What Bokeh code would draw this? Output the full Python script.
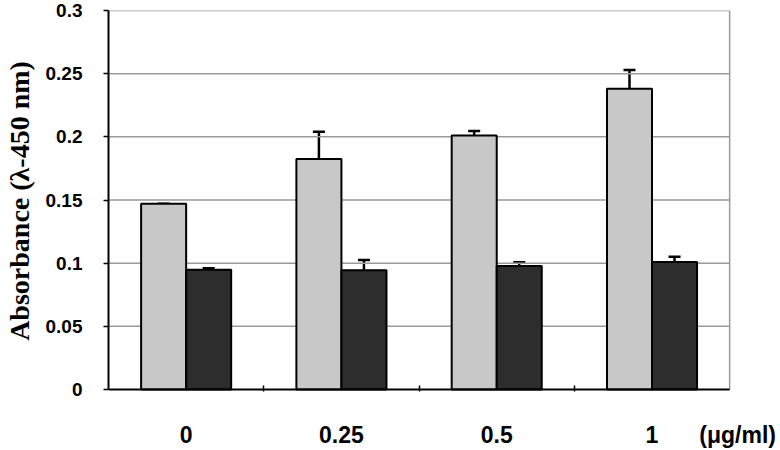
from bokeh.plotting import figure
from bokeh.models import ColumnDataSource, FixedTicker, Whisker, TeeHead, Range1d
from bokeh.embed import file_html
from bokeh.resources import INLINE

categories = ["0", "0.25", "0.5", "1"]
gray_values = [0.147, 0.1825, 0.201, 0.238]
gray_upper = [0.147, 0.204, 0.2047, 0.253]
dark_values = [0.0948, 0.0945, 0.0977, 0.101]
dark_upper = [0.096, 0.1026, 0.1008, 0.105]
y_ticks = [0, 0.05, 0.1, 0.15, 0.2, 0.25, 0.3]
y_tick_labels = ["0", "0.05", "0.1", "0.15", "0.2", "0.25", "0.3"]
unit_label = "(μg/ml)"

n = len(categories)
y_max = max(y_ticks)

# layout (pixels)
W, H = 780, 450
LEFT, TOP, BOTTOM = 106, 10, 55
PLOT_W, PLOT_H = 623, 383          # width of the 4 groups, height of 0..0.3
x_end = n * (W - LEFT) / PLOT_W
y_start = -y_max * (H - BOTTOM - TOP - PLOT_H) / PLOT_H
unit_pos = (737 - LEFT) * n / PLOT_W

bar_w = 0.29
centers = [i + 0.5 for i in range(n)]
gx = [c - bar_w / 2 for c in centers]
dx = [c + bar_w / 2 for c in centers]

src_g = ColumnDataSource(dict(x=gx, top=gray_values, upper=gray_upper))
src_d = ColumnDataSource(dict(x=dx, top=dark_values, upper=dark_upper))

p = figure(width=W, height=H, output_backend="svg", toolbar_location=None,
           x_range=Range1d(0, x_end), y_range=Range1d(y_start, y_max),
           min_border_left=LEFT, min_border_right=0, min_border_top=TOP,
           min_border_bottom=BOTTOM)
p.background_fill_color = "white"
p.border_fill_color = "white"
p.outline_line_color = None

grid_col = "#9a9a9a"
p.segment(x0=[0] * (len(y_ticks) - 1), x1=[n] * (len(y_ticks) - 1),
          y0=y_ticks[1:], y1=y_ticks[1:], line_color=grid_col, line_width=1.5)
p.segment(x0=[n], x1=[n], y0=[0], y1=[y_max], line_color=grid_col, line_width=1.5)

p.vbar(x="x", top="top", width=bar_w, bottom=0, source=src_g,
       fill_color="#c8c8c8", line_color="black", line_width=2)
p.vbar(x="x", top="top", width=bar_w, bottom=0, source=src_d,
       fill_color="#2d2d2d", line_color="black", line_width=2)

for src in (src_g, src_d):
    w = Whisker(base="x", lower="top", upper="upper", source=src, dimension="height",
                line_color="black", line_width=2.5,
                upper_head=TeeHead(size=12, line_color="black", line_width=2.5),
                lower_head=None)
    p.add_layout(w)

# baseline (x axis line) limited to the group area
p.segment(x0=[0], x1=[n], y0=[0], y1=[0], line_color="black", line_width=2)

# x axis: category labels + unit label
xa = p.xaxis[0]
xa.ticker = FixedTicker(ticks=centers + [unit_pos], minor_ticks=list(range(1, n)))
overrides = {c: lab for c, lab in zip(centers, categories)}
overrides[unit_pos] = unit_label
xa.major_label_overrides = overrides
xa.major_tick_line_color = None
xa.minor_tick_in = 6
xa.minor_tick_out = 0
xa.minor_tick_line_color = "black"
xa.minor_tick_line_width = 1.5
xa.axis_line_color = None
xa.major_label_standoff = 24
xa.major_label_text_font = "Liberation Sans"
xa.major_label_text_font_style = "bold"
xa.major_label_text_font_size = "23px"
xa.major_label_text_color = "black"

# y axis
p.yaxis.bounds = (0, y_max)
p.yaxis.ticker = FixedTicker(ticks=y_ticks)
p.yaxis.major_label_overrides = {t: lab for t, lab in zip(y_ticks, y_tick_labels)}
p.yaxis.minor_tick_line_color = None
p.yaxis.major_tick_in = 0
p.yaxis.major_tick_out = 5
p.yaxis.major_tick_line_color = "black"
p.yaxis.major_tick_line_width = 1.5
p.yaxis.axis_line_color = "black"
p.yaxis.axis_line_width = 2
p.yaxis.major_label_standoff = 21
p.yaxis.major_label_text_font = "Liberation Sans"
p.yaxis.major_label_text_font_style = "bold"
p.yaxis.major_label_text_font_size = "19px"
p.yaxis.major_label_text_color = "black"
p.yaxis.axis_label = "Absorbance (λ-450 nm)"
p.yaxis.axis_label_text_font = "Liberation Serif"
p.yaxis.axis_label_text_font_style = "bold"
p.yaxis.axis_label_text_font_size = "28px"
p.yaxis.axis_label_text_color = "black"
p.yaxis.axis_label_standoff = 8

p.xgrid.grid_line_color = None
p.ygrid.grid_line_color = None

open("out.html", "w").write(file_html(p, INLINE))
